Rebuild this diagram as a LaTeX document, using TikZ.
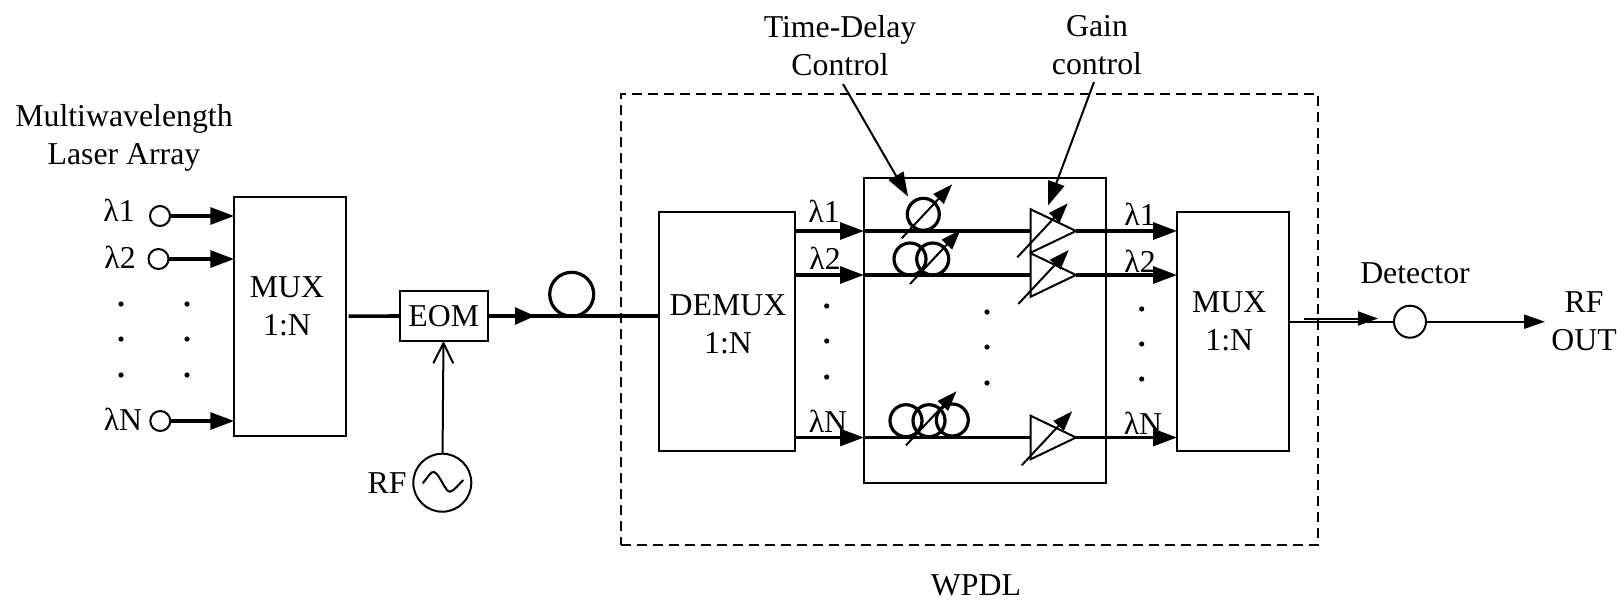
\documentclass[tikz,border=0pt]{standalone}
\usepackage{fontspec}
\setmainfont{Liberation Serif}
\usetikzlibrary{arrows.meta}
\tikzset{
  lab/.style={inner sep=0, align=center, font=\fontsize{15.9}{19}\selectfont},
  blockbox/.style={draw, line width=1pt, inner sep=0, outer sep=0, font=\fontsize{15.9}{19}\selectfont},
  port/.style={draw, circle, line width=1pt, inner sep=0, outer sep=0, fill=white, minimum size=10pt},
  coil/.style={draw, circle, line width=1.6pt, inner sep=0, outer sep=0, minimum size=16pt},
  dotmark/.style={circle, fill=black, inner sep=0, minimum size=2.6pt},
  fibre/.style={line width=1.8pt},
  wire/.style={line width=1pt},
  solidtip/.style={-{Triangle[length=12pt,width=8.4pt]}},
  smalltip/.style={-{Triangle[length=10pt,width=7pt]}}
}
\begin{document}
\begin{tikzpicture}[x=0.5pt,y=-0.5pt]
\useasboundingbox (0,0) rectangle (1617,601);
% outer dashed box
\node[blockbox, dash pattern=on 5pt off 3pt, minimum width=348.6pt, minimum height=225.3pt] (wpdl) at (969.4,319.2) {};
% blocks
\node[blockbox, minimum width=55.7pt, minimum height=119.5pt] (muxa) at (290,316.2) {};
\node[blockbox, minimum width=44pt, minimum height=25pt] (eom) at (443.7,316) {EOM};
\node[blockbox, minimum width=68pt, minimum height=119.5pt] (demux) at (727,331.2) {};
\node[blockbox, minimum width=121pt, minimum height=152.2pt] (delaybox) at (985,330.5) {};
\node[blockbox, minimum width=55.9pt, minimum height=119.5pt] (muxb) at (1233,331) {};
\node[lab] (muxatxt) at (287,306) {MUX\\1:N};
\node[lab] (demuxtxt) at (728,324) {DEMUX\\1:N};
\node[lab] (muxbtxt) at (1229.3,321) {MUX\\1:N};
% input lasers
\foreach \n/\x/\y/\t/\tx/\ty in {1/160/216/1/119/210, 2/158.5/259/2/120/257, N/160.3/421/N/123/419} {
  \node[port] (las\n) at (\x,\y) {};
  \node[lab] (lastxt\n) at (\tx,\ty) {λ\t};
  \draw[fibre, solidtip] (las\n) -- (muxa.west |- las\n);
}
\foreach \x in {121,187} \foreach \y in {304,339,375} \node[dotmark] (dot\x\y) at (\x,\y) {};
\node[lab] (title) at (124,138) {Multiwavelength\\Laser Array};
% modulator and feed
\draw[fibre, shorten <=1.5pt] (muxa.east) -- (eom.west);
\node[draw, circle, line width=1pt, inner sep=0, outer sep=0, minimum size=29pt] (rfsrc) at (442.3,482.7) {};
\node[lab] (rftxt) at (387,483) {RF};
\draw[wire] (422.7,483.3) .. controls (428,477) and (431,471) .. (434,472) .. controls (440,474) and (445,492) .. (450,491.7) .. controls (454,491) and (459,484) .. (463.3,480);
\draw[wire, -{Straight Barb[length=10pt,width=10pt]}] (rfsrc) -- (eom);
\coordinate (fibretip) at (535,316);
\node[draw, circle, line width=1.6pt, inner sep=0, outer sep=0, minimum size=22pt] (spool) at (571.7,294.3) {};
\draw[fibre] (eom.east) -- (demux.west |- eom.east);
\draw[fibre, -{Triangle[length=10pt,width=8.4pt]}] (eom.east) -- (fibretip);
% channels
\foreach \n/\y in {1/231, 2/275, N/437.5} {
  \coordinate (ampin\n) at (1030.7,\y);
  \coordinate (ampout\n) at (1076,\y);
  \draw[fibre, solidtip] (demux.east |- ampin\n) -- (delaybox.west |- ampin\n);
  \draw[fibre] (delaybox.west |- ampin\n) -- (ampin\n);
  \draw[line width=1pt] (ampin\n) ++(0,-21.7) -- ++(0,43.4) -- (ampout\n) -- cycle;
  \draw[fibre, solidtip] (ampout\n) -- (muxb.west |- ampin\n);
}
% delay spools
\node[coil] (sa) at (923.3,214.3) {};
\node[coil] (sb) at (910,259) {};
\node[coil] (sc) at (932.7,259) {};
\node[coil] (sd) at (906,420.7) {};
\node[coil] (se) at (929,420.7) {};
\node[coil] (sf) at (952.3,420) {};
% adjustable arrows
\foreach \x/\y in {901.7/238.3, 910/284, 906/445.3, 1017.3/257.3, 1018.3/304, 1021.7/465.3}
  \draw[wire, smalltip] (\x,\y) -- ++(50.5,-54);
% channel labels
\foreach \n/\t/\x/\y in {a/1/824/211, b/2/825/258, c/N/828/421, d/1/1140/214, e/2/1140/261, f/N/1143/423}
  \node[lab] (chtxt\n) at (\x,\y) {λ\t};
\foreach \x/\a/\b/\c in {826.7/306/341/377, 987/312/347/383, 1141.7/309/344/379} {
  \node[dotmark] (dota\x) at (\x,\a) {};
  \node[dotmark] (dotb\x) at (\x,\b) {};
  \node[dotmark] (dotc\x) at (\x,\c) {};
}
% control inputs
\node[lab] (delaytxt) at (840,45.5) {Time-Delay\\Control};
\node[lab] (gaintxt) at (1097,45.5) {Gain\\control};
\coordinate (delayfrom) at (843,84);
\coordinate (delayto) at (908,196.5);
\coordinate (gainfrom) at (1094,82);
\coordinate (gainto) at (1048,205.5);
\draw[wire, solidtip] (delayfrom) -- (delayto);
\draw[wire, solidtip] (gainfrom) -- (gainto);
\node[lab] (wpdltxt) at (976,585.5) {WPDL};
% detector
\node[port, minimum size=16pt] (det) at (1410,321.7) {};
\node[lab] (dettxt) at (1415,273) {Detector};
\coordinate (dbl) at (1304,318.5);
\coordinate (dbltip) at (1378,318.5);
\coordinate (rfout) at (1545,321.7);
\draw[wire] (muxb.east |- det) -- (det);
\draw[wire, smalltip] (dbl) -- (dbltip);
\draw[wire, -{Triangle[length=10.5pt,width=7pt]}] (det) -- (rfout);
\node[lab] (rfouttxt) at (1584,321) {RF\\OUT};
\end{tikzpicture}
\end{document}
